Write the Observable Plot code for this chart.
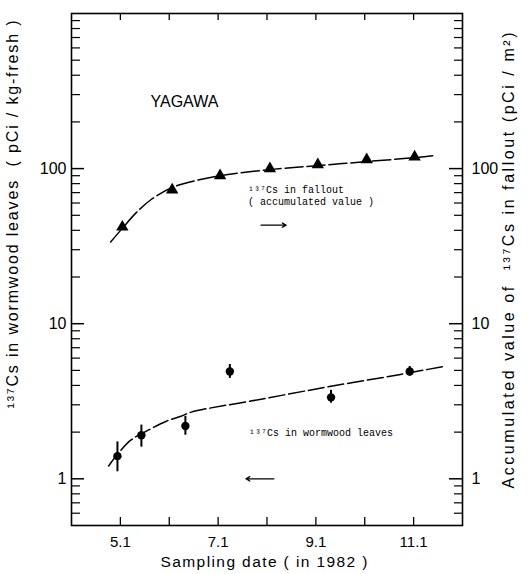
<!DOCTYPE html>
<html><head><meta charset="utf-8">
<script src="https://cdn.jsdelivr.net/npm/d3@7"></script>
<script src="https://cdn.jsdelivr.net/npm/@observablehq/plot@0.6"></script>
<style>body{margin:0;background:#fff}</style>
</head><body><div id="chart"></div>
<script>
// Accumulated 137Cs in fallout (pCi/m2), sampling month (5 = May 1, ...)
const falloutMonth = [5.04, 6.06, 7.04, 8.06, 9.04, 10.04, 11.02];
const falloutValue = [42, 73, 90, 100, 106, 114, 119];
// 137Cs in wormwood leaves (pCi/kg-fresh)
const leavesMonth = [4.94, 5.43, 6.33, 7.24, 9.31, 10.92];
const leavesValue = [1.40, 1.91, 2.19, 4.92, 3.35, 4.92];
const leavesLow  = [1.11, 1.60, 1.91, 4.44, 3.07, 4.60];
const leavesHigh = [1.73, 2.22, 2.53, 5.46, 3.72, 5.30];
// fitted dashed curves
const falloutFitMonth = [4.80, 5.04, 5.33, 5.63, 6.06, 6.55, 7.04, 8.06, 9.04, 10.04, 11.02, 11.39];
const falloutFitValue = [33.6, 41.2, 52.2, 63.2, 75.5, 83.8, 90, 98.5, 104.5, 111, 117.6, 121];
const leavesFitMonth = [4.76, 4.98, 5.22, 5.61, 5.94, 6.24, 6.45, 7.88, 9.31, 10.73, 11.61];
const leavesFitValue = [1.21, 1.49, 1.78, 2.09, 2.35, 2.53, 2.69, 3.26, 3.95, 4.71, 5.30];
// axes
const xTickMonths = [5, 6, 7, 8, 9, 10, 11];
const xLabelMonths = [5, 7, 9, 11];
const xTickLabels = ["5.1", "7.1", "9.1", "11.1"];
const yMajor = [1, 10, 100];
const yMinor = [0.6, 0.7, 0.8, 0.9, 2, 3, 4, 5, 6, 7, 8, 9, 20, 30, 40, 50, 60, 70, 80, 90, 200, 300, 400, 500, 600, 700, 800, 900];
// texts
const stationName = "YAGAWA";
const falloutNote = ["¹³⁷Cs in fallout", "( accumulated value )"];
const leavesNote = "¹³⁷Cs in wormwood leaves";
const leftTitle = "¹³⁷Cs in wormwood leaves  ( pCi / kg-fresh )";
const rightTitle = "Accumulated value of  ¹³⁷Cs in fallout (pCi / m²)";
const xTitle = "Sampling date ( in 1982 )";
// annotation anchors in data units (month, value)
const stationAt = [6.31, 268];
const falloutNoteAt = [[7.61, 73.2], [7.61, 61.4]];
const leavesNoteAt = [7.63, 1.97];
const falloutArrow = [7.88, 8.39, 43.2];
const leavesArrow = [8.14, 7.57, 1.0];

const W = 529, H = 574, mL = 71, mR = 67, mT = 13, mB = 49;
const pw = W - mL - mR, ph = H - mT - mB;
const sans = "Liberation Sans, Arial, Helvetica, sans-serif";
const mono = "Liberation Mono, Courier New, monospace";

const fallout = falloutMonth.map((m, i) => ({m, v: falloutValue[i]}));
const leaves = leavesMonth.map((m, i) => ({m, v: leavesValue[i], lo: leavesLow[i], hi: leavesHigh[i]}));
const fFit = falloutFitMonth.map((m, i) => ({m, v: falloutFitValue[i]}));
const lFit = leavesFitMonth.map((m, i) => ({m, v: leavesFitValue[i]}));

const chart = Plot.plot({
  width: W, height: H,
  marginLeft: mL, marginRight: mR, marginTop: mT, marginBottom: mB,
  style: {fontFamily: sans, background: "#fff", color: "#000"},
  x: {type: "linear", domain: [4, 12], axis: null},
  y: {type: "log", domain: [0.5, 1000], axis: null},
  marks: [
    Plot.frame({stroke: "#000", strokeWidth: 1.6}),
    // y ticks inward, left
    Plot.tickY(yMajor, {y: d => d, insetRight: pw - 13, stroke: "#000", strokeWidth: 1.5}),
    Plot.tickY(yMinor, {y: d => d, insetRight: pw - 9, stroke: "#000", strokeWidth: 1.2}),
    // right
    Plot.tickY(yMajor, {y: d => d, insetLeft: pw - 13, stroke: "#000", strokeWidth: 1.5}),
    Plot.tickY(yMinor, {y: d => d, insetLeft: pw - 8, stroke: "#000", strokeWidth: 1.2}),
    // x ticks inward (bottom and top)
    Plot.tickX(xTickMonths, {x: d => d, insetTop: ph - 8, stroke: "#000", strokeWidth: 1.3}),
    Plot.tickX(xTickMonths, {x: d => d, insetBottom: ph - 7, stroke: "#000", strokeWidth: 1.3}),
    // axis labels
    Plot.text(yMajor, {y: d => d, text: d => String(d), frameAnchor: "left", textAnchor: "end", dx: -5, fontSize: 16}),
    Plot.text(yMajor, {y: d => d, text: d => String(d), frameAnchor: "right", textAnchor: "start", dx: 9, fontSize: 16}),
    Plot.text(xLabelMonths, {x: d => d, text: (d, i) => xTickLabels[i], frameAnchor: "bottom", lineAnchor: "top", dy: 11, fontSize: 15}),
    // titles
    Plot.text([leftTitle], {frameAnchor: "left", textAnchor: "middle", rotate: -90, dx: -59, dy: -55, fontSize: 16}),
    Plot.text([rightTitle], {frameAnchor: "right", textAnchor: "middle", rotate: -90, dx: 46, dy: -9, fontSize: 16}),
    Plot.text([xTitle], {frameAnchor: "bottom", textAnchor: "middle", lineAnchor: "middle", dx: -3, dy: 37, fontSize: 15.5}),
    // fitted curves
    Plot.line(fFit, {x: "m", y: "v", curve: "catmull-rom", stroke: "#000", strokeWidth: 1.5, strokeDasharray: "18,4"}),
    Plot.line(lFit, {x: "m", y: "v", curve: "catmull-rom", stroke: "#000", strokeWidth: 1.5, strokeDasharray: "16,4"}),
    // error bars and points
    Plot.ruleX(leaves, {x: "m", y1: "lo", y2: "hi", stroke: "#000", strokeWidth: 2}),
    Plot.dot(leaves, {x: "m", y: "v", r: 4.2, fill: "#000", stroke: "none"}),
    Plot.dot(fallout, {x: "m", y: "v", symbol: "triangle", r: 4.6, fill: "#000", stroke: "none"}),
    // annotations
    Plot.text([stationName], {x: () => stationAt[0], y: () => stationAt[1], fontSize: 16, fontFamily: sans}),
    Plot.text(falloutNote, {x: (d, i) => falloutNoteAt[i][0], y: (d, i) => falloutNoteAt[i][1], textAnchor: "start", fontSize: 10, fontFamily: mono}),
    Plot.text([leavesNote], {x: () => leavesNoteAt[0], y: () => leavesNoteAt[1], textAnchor: "start", fontSize: 10, fontFamily: mono}),
    Plot.arrow([falloutArrow], {x1: d => d[0], x2: d => d[1], y1: d => d[2], y2: d => d[2], headLength: 5, strokeWidth: 1.3, stroke: "#000"}),
    Plot.arrow([leavesArrow], {x1: d => d[0], x2: d => d[1], y1: d => d[2], y2: d => d[2], headLength: 5, strokeWidth: 1.3, stroke: "#000"})
  ]
});
// stretch the axis titles to the spans they have in the reference
const spans = new Map([[leftTitle, 388], [rightTitle, 456], [xTitle, 207]]);
d3.select(chart).selectAll("text").each(function () {
  const len = spans.get(this.textContent);
  if (len) d3.select(this).attr("textLength", len).attr("lengthAdjust", "spacing");
});
document.getElementById("chart").appendChild(chart);
</script>
</body></html>
